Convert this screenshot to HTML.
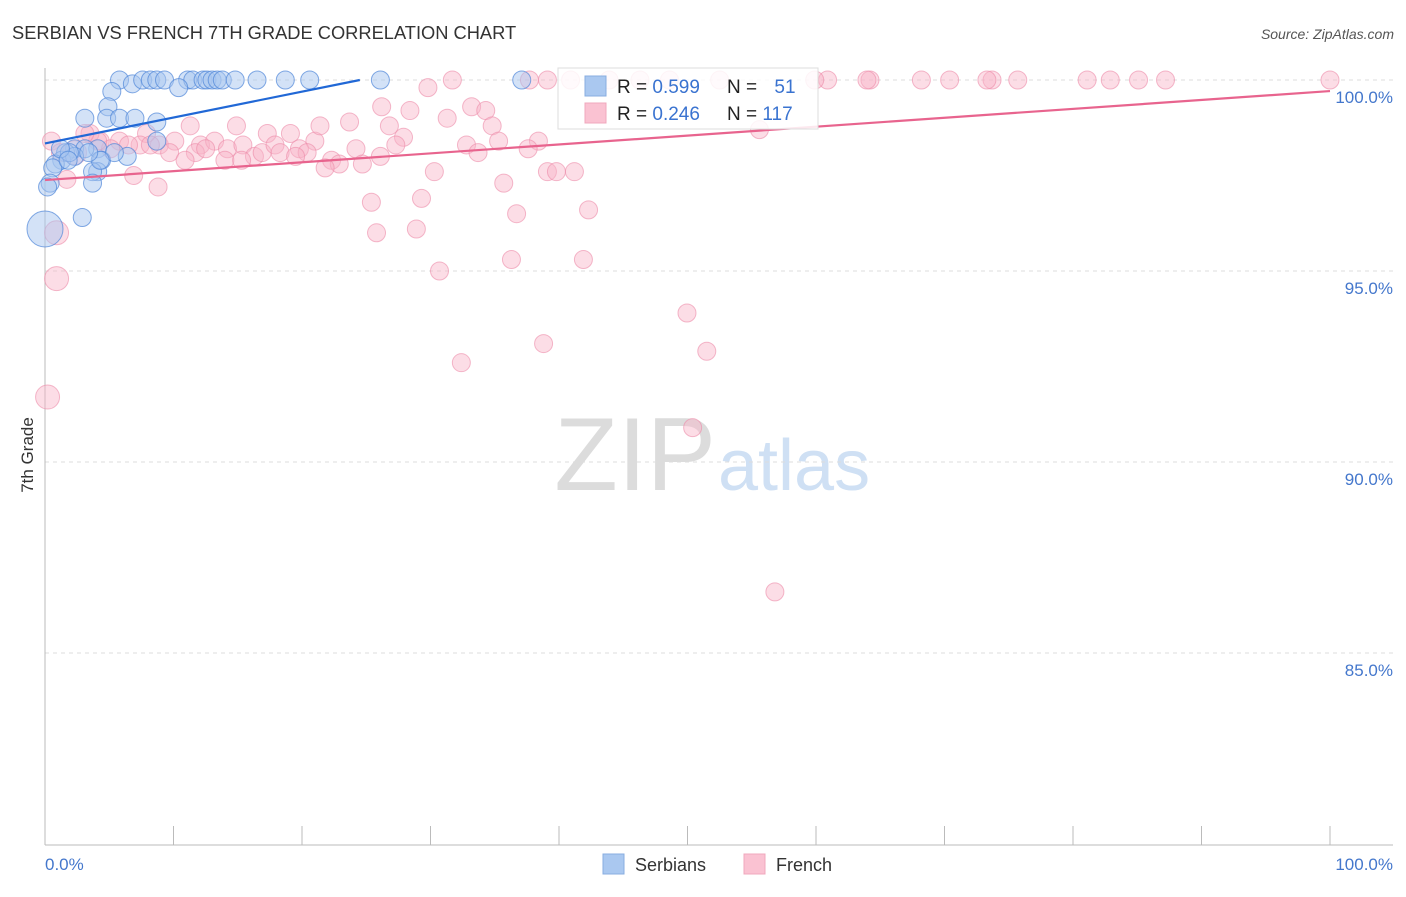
<!DOCTYPE html>
<html><head><meta charset="utf-8"><style>
body{margin:0;background:#fff;font-family:"Liberation Sans",sans-serif}
svg text{font-family:"Liberation Sans",sans-serif}
</style></head><body>
<svg id="c" width="1406" height="892">
<text x="12" y="39" font-size="18.3" fill="#333">SERBIAN VS FRENCH 7TH GRADE CORRELATION CHART</text>
<text x="1394" y="39" font-size="14" fill="#555" font-style="italic" text-anchor="end">Source: ZipAtlas.com</text>
<text x="716" y="490" font-size="104" fill="#dcdcdc" text-anchor="end" font-family="Liberation Serif">ZIP</text>
<text x="718" y="490" font-size="72" fill="#cfe0f4">atlas</text>
<text transform="translate(33,455) rotate(-90)" font-size="17" fill="#333" text-anchor="middle">7th Grade</text>
<g id="grid"></g><g id="pts"></g><g id="lines"></g>
<g>
<rect x="558" y="68" width="260" height="61" fill="#fff" fill-opacity="0.85" stroke="#ddd"/>
<rect x="585" y="76" width="21" height="20" fill="#aac8f0" stroke="#88aee0"/>
<rect x="585" y="103" width="21" height="20" fill="#fac2d2" stroke="#f0a8bd"/>
<text x="617" y="93" font-size="19" fill="#222">R = <tspan fill="#3a73d0">0.599</tspan></text>
<text x="727" y="93" font-size="19" fill="#222">N = <tspan fill="#3a73d0" dx="12">51</tspan></text>
<text x="617" y="120" font-size="19" fill="#222">R = <tspan fill="#3a73d0">0.246</tspan></text>
<text x="727" y="120" font-size="19" fill="#222">N = <tspan fill="#3a73d0">117</tspan></text>
</g>
<g>
<rect x="603" y="854" width="21" height="20" fill="#aac8f0" stroke="#88aee0"/>
<text x="635" y="871" font-size="18" fill="#333">Serbians</text>
<rect x="744" y="854" width="21" height="20" fill="#fac2d2" stroke="#f0a8bd"/>
<text x="776" y="871" font-size="18" fill="#333">French</text>
</g>
</svg>
<script>
const yTicks=[100,95,90,85];
const blueX=[5.8,6.8,7.6,8.2,8.7,9.3,11.1,11.5,12.3,12.6,13,13.4,13.8,14.8,16.5,18.7,20.6,26.1,37.1,10.4,5.2,4.9,3.1,4.8,5.8,7,8.7,8.7,4.1,2.3,1.6,3.1,1.3,0.8,2.3,4.4,6.4,4.1,3.7,0.6,0.4,3.7,2.9,0,1.9,1.2,5.4,4.3,3.4,0.2,1.8];
const blueY=[100,99.9,100,100,100,100,100,100,100,100,100,100,100,100,100,100,100,100,100,99.8,99.7,99.3,99,99,99,99,98.9,98.4,98.2,98.2,98.1,98.2,97.9,97.8,98,97.9,98,97.6,97.6,97.7,97.3,97.3,96.4,96.1,98.1,98.2,98.1,97.9,98.1,97.2,97.9];
const blueR=[9,9,9,9,9,9,9,9,9,9,9,9,9,9,9,9,9,9,9,9,9,9,9,9,9,9,9,9,9,9,9,9,9,9,9,9,9,9,9,9,9,9,9,18,9,9,9,9,9,9,9];
const pinkX=[100,87.2,85.1,82.9,81.1,75.7,73.7,73.3,70.4,68.2,64.2,63.964,60.9,59.9,52.5,48.6,46.3,43.9,40.9,39.1,37.7,31.7,29.8,26.2,28.4,33.2,34.3,23.7,26.8,31.3,34.8,27.9,27.3,32.8,35.3,38.4,37.6,33.7,55.6,24.2,21,21.4,19.1,17.3,14.9,11.3,7.9,5.8,4.3,3.5,5.1,7.4,8.9,10.1,12.1,13.2,11.7,9.7,10.9,12.5,14.2,15.4,16.3,16.9,17.9,18.3,19.8,20.4,19.5,22.3,22.9,21.8,24.7,26.1,14,6.9,8.8,1.7,2.3,0.5,30.3,35.7,39.1,41.2,39.8,25.4,29.3,36.7,42.3,25.8,28.9,36.3,41.9,30.7,0.9,0.9,0.2,32.4,38.8,49.960,51.5,50.4,56.8,4.1,3.1,6.5,1.2,15.3,8.2];
const pinkY=[100,100,100,100,100,100,100,100,100,100,100,100,100,100,100,100,100,100,100,100,100,100,99.8,99.3,99.2,99.3,99.2,98.9,98.8,99,98.8,98.5,98.3,98.3,98.4,98.4,98.2,98.1,98.7,98.2,98.4,98.8,98.6,98.6,98.8,98.8,98.6,98.4,98.4,98.6,98.2,98.3,98.3,98.4,98.3,98.4,98.1,98.1,97.9,98.2,98.2,98.3,98,98.1,98.3,98.1,98.2,98.1,98,97.9,97.8,97.7,97.8,98,97.9,97.5,97.2,97.4,98.1,98.4,97.6,97.3,97.6,97.6,97.6,96.8,96.9,96.5,96.6,96,96.1,95.3,95.3,95,96,94.8,91.7,92.6,93.1,93.9,92.9,90.9,86.6,98.4,98.6,98.3,98.1,97.9,98.3];
const pinkR=pinkX.map((v,i)=>(i==78||i==94||i==95||i==96)?12:9);
const X0=45,X1=1330,YT=80,PER=38.2;
const sx=v=>X0+(X1-X0)*v/100, sy=v=>YT+(100-v)*PER;
const NS='http://www.w3.org/2000/svg';
function mk(t,a,p){const e=document.createElementNS(NS,t);for(const k in a)e.setAttribute(k,a[k]);p.appendChild(e);return e;}
const grid=document.getElementById('grid');
yTicks.forEach(t=>{
 const l=mk('line',{x1:45,x2:1393,y1:sy(t),y2:sy(t),stroke:'#ddd','stroke-dasharray':'4,4'},grid);
 
 
 const tx=mk('text',{x:1393,y:sy(t)+23,'font-size':17,fill:'#4477cc','text-anchor':'end'},grid);
 tx.textContent=t.toFixed(1)+'%';
 
 
});
const ax=mk('line',{x1:45,x2:45,y1:68,y2:845,stroke:'#bbb'},grid);


const bx=mk('line',{x1:45,x2:1393,y1:845,y2:845,stroke:'#bbb'},grid);


for(let i=0;i<=10;i++){const t=mk('line',{x1:sx(i*10),x2:sx(i*10),y1:826,y2:845,stroke:'#bbb'},grid);
 
 }
const l0=mk('text',{x:45,y:870,'font-size':17,fill:'#4477cc'},grid);l0.textContent='0.0%';


const l1=mk('text',{x:1393,y:870,'font-size':17,fill:'#4477cc','text-anchor':'end'},grid);l1.textContent='100.0%';


const pts=document.getElementById('pts');
pinkX.forEach((v,i)=>{const c=mk('circle',{cx:sx(v),cy:sy(pinkY[i]),r:pinkR[i],fill:'#f8b4c8','fill-opacity':0.45,stroke:'#ec8aa8','stroke-opacity':0.6},pts);
 
 });
blueX.forEach((v,i)=>{const c=mk('circle',{cx:sx(v),cy:sy(blueY[i]),r:blueR[i],fill:'#a8c6ef','fill-opacity':0.5,stroke:'#4f86d8','stroke-opacity':0.7},pts);
 
 });
const lines=document.getElementById('lines');
const b=mk('line',{x1:sx(0),y1:sy(98.34),x2:sx(24.5),y2:sy(100),stroke:'#2168d6','stroke-width':2.2},lines);


const p=mk('line',{x1:sx(0),y1:sy(97.38),x2:sx(100),y2:sy(99.71),stroke:'#e8648e','stroke-width':2.2},lines);


</script>
</body></html>
